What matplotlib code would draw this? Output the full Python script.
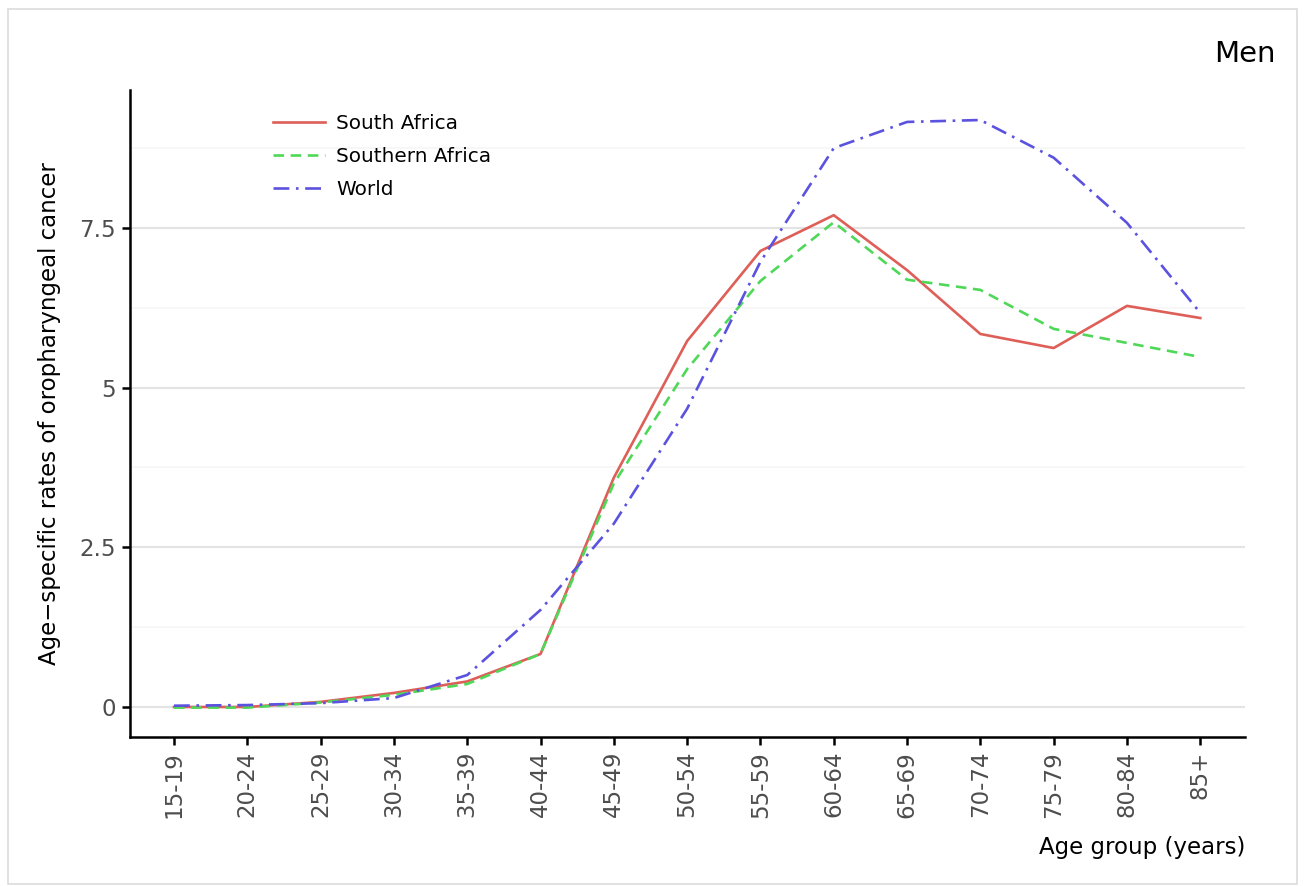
import matplotlib
matplotlib.use("Agg")
import matplotlib.pyplot as plt
from matplotlib.patches import Rectangle

age_groups = ['15-19', '20-24', '25-29', '30-34', '35-39', '40-44', '45-49',
              '50-54', '55-59', '60-64', '65-69', '70-74', '75-79', '80-84', '85+']

south_africa = [0.0, 0.0, 0.08, 0.22, 0.40, 0.83, 3.59, 5.73, 7.14, 7.70,
                6.84, 5.84, 5.62, 6.28, 6.09]
southern_africa = [-0.01, -0.01, 0.07, 0.19, 0.36, 0.83, 3.50, 5.29, 6.67, 7.59,
                   6.69, 6.53, 5.92, 5.70, 5.48]
world = [0.02, 0.03, 0.06, 0.14, 0.50, 1.52, 2.87, 4.67, 6.97, 8.75,
         9.16, 9.19, 8.60, 7.58, 6.17]

yticks = [0, 2.5, 5, 7.5]
ytick_labels = ['0', '2.5', '5', '7.5']

fig = plt.figure(figsize=(13.09, 8.86), dpi=100)
ax = fig.add_axes([130 / 1309, 1 - 737 / 886, 1115 / 1309, 647 / 886])

# рамка вокруг рисунка
fig.patches.append(Rectangle((8 / 1309, 2 / 886), 1289 / 1309, 875 / 886,
                             transform=fig.transFigure, fill=False,
                             edgecolor='#dcdcdc', linewidth=1.2))

x = list(range(len(age_groups)))
ax.plot(x, south_africa, color='#de5e58', linewidth=1.9, label='South Africa')
ax.plot(x, southern_africa, color='#4fd858', linewidth=1.9, linestyle=(0, (4, 2.5)),
        label='Southern Africa')
ax.plot(x, world, color='#5b52df', linewidth=1.9, linestyle=(0, (6, 2.5, 1, 2.5)),
        label='World')

ax.set_xlim(-0.6, 14.61)
ax.set_ylim(-0.47, 9.66)
ax.set_xticks(x)
ax.set_xticklabels(age_groups, rotation=90)
ax.set_yticks(yticks)
ax.set_yticklabels(ytick_labels)
ax.set_yticks([1.25, 3.75, 6.25, 8.75], minor=True)

ax.grid(axis='y', which='major', color='#e3e3e3', linewidth=1.5)
ax.grid(axis='y', which='minor', color='#f6f6f6', linewidth=1.2)
ax.set_axisbelow(True)

for s in ['top', 'right']:
    ax.spines[s].set_visible(False)
for s in ['left', 'bottom']:
    ax.spines[s].set_linewidth(1.8)
    ax.spines[s].set_color('black')
ax.tick_params(axis='both', which='major', length=6, width=1.8, color='black',
               labelcolor='#4d4d4d', labelsize=16.5, pad=4)
ax.tick_params(axis='y', which='minor', length=0)

ax.set_ylabel('Age\u2212specific rates of oropharyngeal cancer', fontsize=16.5)
ax.set_xlabel('Age group (years)', fontsize=16.5, loc='right', labelpad=13)
ax.yaxis.set_label_coords(-0.062, 0.5)

fig.text(1276 / 1309, 1 - 54 / 886, 'Men', fontsize=21, ha='right', va='center')

ax.legend(loc='upper left', bbox_to_anchor=(0.112, 0.99), frameon=False,
          fontsize=14.4, handlelength=2.6, labelspacing=0.7, handletextpad=0.55)

plt.savefig('out.png', dpi=100)
